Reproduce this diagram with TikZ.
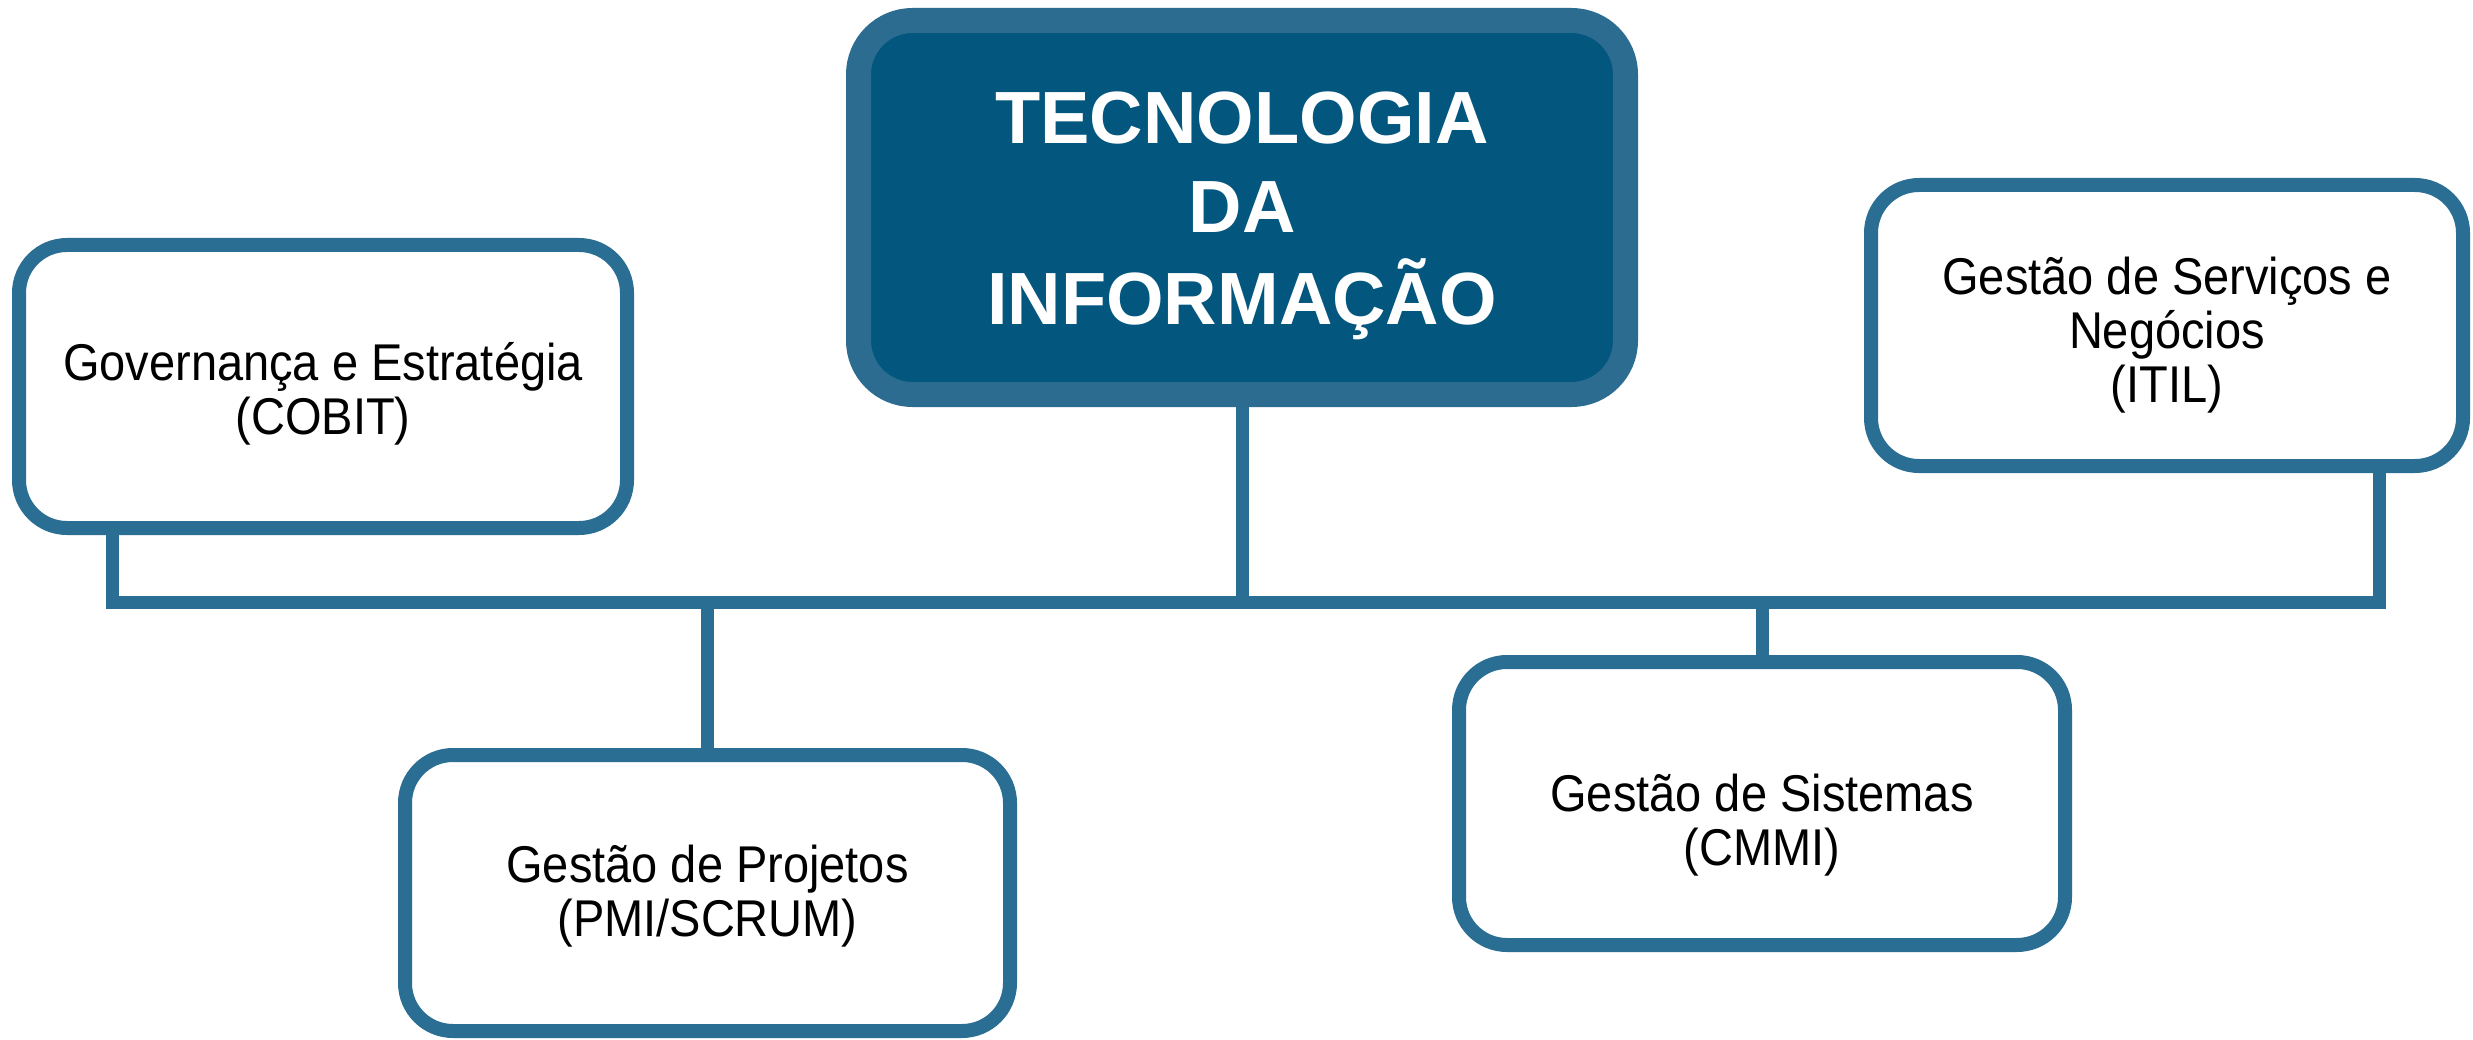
\documentclass[tikz,border=0pt]{standalone}
\usepackage{fontspec}
\setmainfont{Liberation Sans}
\definecolor{edge}{HTML}{2B6E93}
\definecolor{band}{HTML}{2D6C91}
\definecolor{core}{HTML}{03567E}
\newcommand\stacklines[1]{\begin{tabular}{@{}c@{}}#1\end{tabular}}
\newcommand\talltext[1]{\scalebox{1}[1.1]{\stacklines{#1}}}
\begin{document}
\begin{tikzpicture}[x=1pt,y=-1pt,
  topic/.style={draw=edge, line width=14pt, fill=white, rounded corners=48pt, inner sep=0pt},
  topictext/.style={inner sep=0pt, font=\fontsize{47}{49}\selectfont},
  title/.style={draw=band, fill=core, line width=25pt, rounded corners=54pt, inner sep=0pt},
  titletext/.style={inner sep=0pt, text=white, font=\fontsize{74}{89}\selectfont\bfseries},
  link/.style={draw=edge, line width=13pt, line join=miter}]
\useasboundingbox (0,0) rectangle (2473,1040);
\fill[white] (0,0) rectangle (2473,1040);
% boxes
\node[title, minimum width=767pt, minimum height=374pt] (ti) at (1242,207.5) {};
\node[titletext] (titext) at (1242,216) {\stacklines{TECNOLOGIA\\DA\\INFORMAÇÃO}};
\node[topic, minimum width=608pt, minimum height=283pt] (gov) at (323,386.5) {};
\node[topictext] (govtext) at (323,397) {\talltext{Governança e Estratégia\\(COBIT)}};
\node[topic, minimum width=592pt, minimum height=281pt] (itil) at (2167,325.5) {};
\node[topictext] (itiltext) at (2167,338) {\talltext{Gestão de Serviços e\\Negócios\\(ITIL)}};
\node[topic, minimum width=605pt, minimum height=276pt] (pmi) at (707.5,893) {};
\node[topictext] (pmitext) at (707.5,899) {\talltext{Gestão de Projetos\\(PMI/SCRUM)}};
\node[topic, minimum width=606pt, minimum height=283pt] (cmmi) at (1762,803.5) {};
\node[topictext] (cmmitext) at (1762,828) {\talltext{Gestão de Sistemas\\(CMMI)}};
% connectors
\coordinate (busL) at (112,602);
\coordinate (busR) at (2379,602);
\draw[link] (gov.south -| busL) -- (busL) -- (busR) -- (itil.south -| busR);
\draw[link] (ti.south) -- (ti.south |- busL);
\draw[link] (pmi.north) -- (pmi.north |- busL);
\draw[link] (cmmi.north) -- (cmmi.north |- busL);
\end{tikzpicture}
\end{document}
